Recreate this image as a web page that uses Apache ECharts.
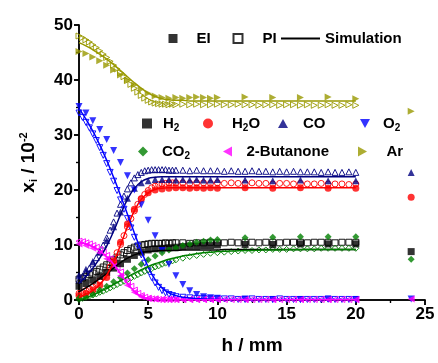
<!DOCTYPE html>
<html><head><meta charset="utf-8">
<script src="https://cdn.jsdelivr.net/npm/echarts@6/dist/echarts.min.js"></script>
<style>html,body{margin:0;padding:0;background:#fff}#c{width:438px;height:363px}</style>
</head><body><div id="c"></div>
<script>
// x positions
const piX = [0,0.25,0.5,0.75,1,1.25,1.5,1.75,2,2.25,2.5,2.75,3,3.25,3.5,3.75,4,4.25,4.5,4.75,5,5.25,5.5,5.75,6,6.25,6.5,6.75,7,
  7.5,8,8.5,9,9.5,10,10.5,11,11.5,12,12.5,13,13.5,14,14.5,15,15.5,16,16.5,17,17.5,18,18.5,19,19.5,20];
const eiX = [0,0.5,1,1.5,2,2.5,3,3.5,4,4.5,5,5.5,6,6.5,7,7.5,8,8.5,9,9.5,10,12,14,16,18,20,24];
const simX = [0,0.5,1,1.5,2,2.5,3,3.5,4,4.5,5,5.5,6,6.5,7,7.5,8,8.5,9,9.5,10,10.5,11,11.5,12,12.5,13,13.5,14,14.5,15,15.5,16,16.5,17,17.5,18,18.5,19,19.5,20];

// EI values (filled markers)
const eiH2 = [2.5,3.0,3.6,4.3,5.0,5.8,6.6,7.4,8.1,8.7,9.1,9.3,9.4,9.5,9.6,9.7,9.8,9.8,9.9,9.9,10.0,10.1,10.1,10.2,10.2,10.2,8.8];
const eiH2O = [0.8,1.2,1.8,2.7,4.1,7.0,10.5,13.8,16.5,18.4,19.5,20.0,20.2,20.3,20.4,20.4,20.3,20.4,20.3,20.4,20.3,20.4,20.3,20.4,20.3,20.3,18.7];
const eiCO = [4.5,5.6,7.0,8.7,10.8,13.3,16.0,18.5,20.3,21.3,21.7,21.9,21.9,21.9,21.8,21.9,21.8,21.9,21.8,21.8,21.9,21.8,21.7,21.8,21.7,21.7,23.2];
const eiO2 = [35.2,34.0,32.6,31.0,29.2,27.2,25.0,22.6,20.0,17.3,14.5,11.7,9.0,6.5,4.4,2.8,1.7,1.0,0.6,0.4,0.3,0.2,0.1,0.1,0.1,0.1,0.2];
const eiCO2 = [0.3,0.6,1.1,1.8,2.5,3.3,4.1,4.9,5.7,6.5,7.3,8.0,8.6,9.1,9.5,9.9,10.2,10.5,10.7,10.9,11.0,11.3,11.4,11.5,11.5,11.5,7.4];
const eiBut = [10.2,9.9,9.4,8.6,7.5,6.1,4.4,2.7,1.4,0.6,0.3,0.2,0.1,0.1,0.1,0.1,0.1,0.1,0.1,0.1,0.1,0.1,0.1,0.1,0.1,0.1,0.2];
const eiAr = [45.2,44.8,44.2,43.5,42.7,41.8,40.9,40.0,39.1,38.3,37.6,37.1,36.8,36.7,36.8,36.7,36.8,36.9,36.8,36.7,36.8,36.9,36.8,36.8,36.9,36.6,34.3];

// PI values (open markers)
const piH2 = [3.8,4.0,4.3,4.6,4.9,5.2,5.6,6.0,6.4,6.8,7.3,7.8,8.2,8.6,9.0,9.3,9.6,9.8,10.0,10.1,10.2,10.3,10.3,10.3,10.3,10.4,10.3,10.4,10.4,
  10.4,10.3,10.4,10.4,10.5,10.4,10.4,10.5,10.4,10.5,10.5,10.4,10.5,10.5,10.4,10.5,10.5,10.5,10.4,10.5,10.5,10.5,10.4,10.5,10.5,10.5];
const piH2O = [1.2,1.4,1.7,2.0,2.4,2.9,3.5,4.2,5.0,6.0,7.2,8.6,10.1,11.7,13.3,14.8,16.2,17.4,18.4,19.2,19.9,20.4,20.7,21.0,21.1,21.2,21.3,21.3,21.3,
  21.3,21.2,21.3,21.3,21.2,21.3,21.2,21.3,21.2,21.2,21.3,21.2,21.2,21.1,21.2,21.2,21.1,21.2,21.1,21.1,21.2,21.1,21.1,21.1,21.0,21.1];
const piCO = [3.6,4.3,5.0,5.8,6.7,7.7,8.8,10.0,11.3,12.7,14.2,15.8,17.4,18.9,20.2,21.3,22.2,22.8,23.2,23.5,23.6,23.7,23.7,23.7,23.7,23.7,23.6,23.6,23.6,
  23.6,23.5,23.6,23.5,23.5,23.5,23.4,23.5,23.4,23.4,23.5,23.4,23.4,23.3,23.4,23.3,23.4,23.3,23.3,23.3,23.2,23.3,23.2,23.2,23.3,23.2];
const piO2 = [34.0,33.2,32.3,31.3,30.2,29.0,27.7,26.3,24.8,23.2,21.6,19.9,18.2,16.5,14.8,13.1,11.4,9.8,8.2,6.7,5.3,4.1,3.1,2.3,1.7,1.3,1.0,0.8,0.6,
  0.5,0.4,0.3,0.3,0.2,0.2,0.2,0.2,0.1,0.1,0.2,0.1,0.1,0.1,0.2,0.1,0.1,0.1,0.1,0.1,0.1,0.2,0.1,0.1,0.1,0.1];
const piCO2 = [0.1,0.3,0.5,0.7,0.9,1.1,1.4,1.6,1.9,2.2,2.5,2.8,3.1,3.4,3.7,4.0,4.3,4.6,4.9,5.2,5.5,5.7,6.0,6.2,6.5,6.7,6.9,7.1,7.3,
  7.6,7.9,8.1,8.3,8.5,8.6,8.7,8.8,8.9,9.0,9.0,9.1,9.1,9.2,9.2,9.2,9.3,9.3,9.3,9.3,9.4,9.4,9.4,9.4,9.4,9.4];
const piBut = [10.7,10.6,10.4,10.2,9.9,9.6,9.2,8.7,8.1,7.5,6.8,6.0,5.1,4.2,3.3,2.5,1.8,1.2,0.8,0.5,0.3,0.2,0.2,0.1,0.1,0.1,0.1,0.1,0.1,
  0.1,0.1,0.1,0.1,0.1,0.1,0.1,0.1,0.1,0.1,0.1,0.1,0.1,0.1,0.1,0.1,0.1,0.1,0.1,0.1,0.1,0.1,0.1,0.1,0.1,0.1];
const piAr = [48.0,47.7,47.3,46.9,46.4,45.9,45.3,44.7,44.1,43.4,42.7,42.0,41.3,40.6,39.9,39.2,38.5,37.8,37.2,36.7,36.3,36.0,35.8,35.7,35.6,35.6,35.5,35.6,35.5,
  35.6,35.5,35.6,35.5,35.5,35.6,35.5,35.5,35.6,35.5,35.5,35.4,35.5,35.5,35.4,35.5,35.5,35.4,35.5,35.4,35.4,35.5,35.4,35.4,35.5,35.4];

// Simulation values
const simH2 = [1.5,2.2,3.0,3.9,4.8,5.8,6.8,7.6,8.2,8.6,8.8,8.9,9.0,9.0,9.0,9.1,9.1,9.1,9.1,9.1,9.1,9.2,9.2,9.2,9.2,9.2,9.2,9.2,9.2,9.2,9.2,9.2,9.2,9.2,9.2,9.2,9.2,9.2,9.2,9.2,9.2];
const simH2O = [0.5,1.0,1.7,2.8,4.5,6.9,10.0,13.3,16.2,18.3,19.5,20.1,20.3,20.4,20.4,20.4,20.4,20.4,20.4,20.4,20.4,20.4,20.4,20.4,20.4,20.4,20.4,20.4,20.4,20.4,20.4,20.4,20.4,20.4,20.4,20.4,20.4,20.4,20.4,20.4,20.4];
const simCO = [3.0,4.3,5.8,7.6,9.8,12.5,15.5,18.3,20.3,21.5,22.1,22.3,22.4,22.4,22.4,22.4,22.4,22.4,22.4,22.4,22.4,22.4,22.4,22.4,22.4,22.4,22.4,22.4,22.4,22.4,22.4,22.4,22.4,22.4,22.4,22.4,22.4,22.4,22.4,22.4,22.4];
const simO2 = [34.8,32.9,30.7,28.2,25.4,22.3,19.0,15.6,12.2,8.9,6.0,3.7,2.2,1.3,0.8,0.5,0.35,0.25,0.2,0.15,0.12,0.1,0.1,0.1,0.1,0.1,0.1,0.1,0.1,0.1,0.1,0.1,0.1,0.1,0.1,0.1,0.1,0.1,0.1,0.1,0.1];
const simCO2 = [0.0,0.4,0.9,1.5,2.1,2.8,3.5,4.2,4.9,5.5,6.1,6.6,7.0,7.4,7.7,8.0,8.2,8.4,8.6,8.7,8.8,8.85,8.9,8.95,9.0,9.0,9.05,9.1,9.1,9.1,9.15,9.15,9.15,9.2,9.2,9.2,9.2,9.2,9.2,9.2,9.2];
const simBut = [10.5,10.2,9.7,8.9,7.9,6.5,4.8,3.0,1.6,0.7,0.3,0.1,0.05,0.05,0.05,0.05,0.05,0.05,0.05,0.05,0.05,0.05,0.05,0.05,0.05,0.05,0.05,0.05,0.05,0.05,0.05,0.05,0.05,0.05,0.05,0.05,0.05,0.05,0.05,0.05,0.05];
const simAr = [46.8,46.2,45.5,44.7,43.8,42.8,41.7,40.6,39.5,38.5,37.6,37.0,36.6,36.4,36.3,36.3,36.2,36.2,36.2,36.2,36.2,36.2,36.2,36.2,36.2,36.2,36.2,36.2,36.2,36.2,36.2,36.2,36.2,36.2,36.2,36.2,36.2,36.2,36.2,36.2,36.2];

const xTicks = [0,5,10,15,20,25];
const yTicks = [0,10,20,30,40,50];

const TRI_DOWN = 'path://M0,0L10,0L5,9Z';
const TRI_LEFT = 'path://M9,0L9,10L0,5Z';
const TRI_RIGHT = 'path://M0,0L0,10L9,5Z';
const TRI_UP = 'path://M5,0L10,9L0,9Z';

const species = [
  {name:'H2',  label:'H{sub|2}',  color:'#000000', symbol:'rect',    ei:eiH2,  pi:piH2,  sim:simH2},
  {name:'H2O', label:'H{sub|2}O', color:'#ff0000', symbol:'circle',  ei:eiH2O, pi:piH2O, sim:simH2O},
  {name:'CO',  label:'CO',        color:'#000080', symbol:TRI_UP,    ei:eiCO,  pi:piCO,  sim:simCO},
  {name:'O2',  label:'O{sub|2}',  color:'#0000ff', symbol:TRI_DOWN,  ei:eiO2,  pi:piO2,  sim:simO2},
  {name:'CO2', label:'CO{sub|2}', color:'#008000', symbol:'diamond', ei:eiCO2, pi:piCO2, sim:simCO2},
  {name:'2-Butanone', label:'2-Butanone', color:'#ff00ff', symbol:TRI_LEFT, ei:eiBut, pi:piBut, sim:simBut},
  {name:'Ar',  label:'Ar',        color:'#999900', symbol:TRI_RIGHT, ei:eiAr,  pi:piAr,  sim:simAr}
];

const FONT = 'Liberation Sans';
const rich = {
  sub:{fontSize:10, fontWeight:'bold', fontFamily:FONT, padding:[9,0,0,0]},
  sup:{fontSize:10, fontWeight:'bold', fontFamily:FONT, padding:[0,0,9,0]}
};

const series = [];
species.forEach(s => {
  series.push({
    name: s.name + ' PI', type:'scatter', z:2, silent:true,
    symbol: s.symbol, symbolSize: 6,
    itemStyle:{color:'transparent', borderColor:s.color, borderWidth:1, opacity:0.9},
    data: piX.map((x,i)=>[x, s.pi[i]])
  });
});
species.forEach(s => {
  series.push({
    name: s.name, type:'scatter', z:3, silent:true,
    symbol: s.symbol, symbolSize: 7,
    itemStyle:{color:s.color},
    data: eiX.map((x,i)=>[x, s.ei[i]])
  });
});
species.forEach(s => {
  series.push({
    name: s.name + ' Sim', type:'line', z:4, silent:true, smooth:true,
    showSymbol:false, symbol:'none',
    lineStyle:{color:s.color, width:1.5},
    data: simX.map((x,i)=>[x, s.sim[i]])
  });
});
series.push({name:'EI', type:'scatter', symbol:'rect', itemStyle:{color:'#000'}, data:[]});
series.push({name:'PI', type:'scatter', symbol:'rect', itemStyle:{color:'#fff', borderColor:'#000', borderWidth:1.2}, data:[]});
series.push({name:'Simulation', type:'line', lineStyle:{color:'#000', width:2}, itemStyle:{color:'#000'}, data:[]});

const txt = {fontSize:15, fontWeight:'bold', fontFamily:FONT, color:'#000', rich: rich};
function lg(name, cx, cy, w, h, pad) {
  return {
    data:[name], left: cx - w/2, top: cy - 9, itemWidth:w, itemHeight:h, padding:0,
    selectedMode:false,
    textStyle: Object.assign({}, txt, {padding:[0,0,0,pad]}),
    formatter: n => { const sp = species.find(s=>s.name===n); return sp ? sp.label : n; }
  };
}
const simLegend = lg('Simulation', 300.5, 40, 39, 2, 0);
simLegend.data = [{name:'Simulation', icon:'rect'}];
const legends = [
  lg('EI', 173, 40, 9, 9, 14),
  lg('PI', 237, 40, 9, 9, 15),
  simLegend,
  lg('H2', 147, 125, 10, 10, 6),
  lg('H2O', 208, 125, 10, 10, 14),
  lg('CO', 283, 125, 10, 10, 10),
  lg('O2', 365, 125, 10, 10, 8),
  lg('CO2', 143, 153, 10, 10, 9),
  lg('2-Butanone', 228, 153, 10, 10, 9),
  lg('Ar', 363, 153, 10, 10, 14)
];

const axisLine = {show:true, lineStyle:{color:'#000', width:1.5}};
const option = {
  animation:false,
  backgroundColor:'#fff',
  grid:{left:79, right:13, top:25, bottom:63},
  legend: legends,
  xAxis:[
    {type:'value', min:xTicks[0], max:xTicks[xTicks.length-1], interval:5, position:'bottom',
     name:'h / mm', nameLocation:'middle', nameGap:36,
     nameTextStyle:{fontSize:19, fontWeight:'bold', fontFamily:FONT, color:'#000'},
     axisLine, splitLine:{show:false},
     axisTick:{show:true, inside:false, length:5, lineStyle:{color:'#000', width:1.5}},
     minorTick:{show:true, splitNumber:2, length:3, lineStyle:{color:'#000', width:1.2}},
     axisLabel:{fontSize:17, fontWeight:'bold', fontFamily:FONT, color:'#000', margin:6}},
    {type:'value', min:0, max:25, interval:5, position:'top',
     axisLine, splitLine:{show:false}, axisLabel:{show:false},
     axisTick:{show:true, inside:true, length:5, lineStyle:{color:'#000', width:1.5}},
     minorTick:{show:true, splitNumber:2, length:3, lineStyle:{color:'#000', width:1.2}}}
  ],
  yAxis:[
    {type:'value', min:yTicks[0], max:yTicks[yTicks.length-1], interval:10, position:'left',
     name:'x{sub|i} / 10{sup|-2}', nameLocation:'middle', nameGap:40, nameRotate:90,
     nameTextStyle:{fontSize:19, fontWeight:'bold', fontFamily:FONT, color:'#000',
       rich:{sub:{fontSize:11, fontWeight:'bold', fontFamily:FONT, padding:[10,0,0,0]},
             sup:{fontSize:11, fontWeight:'bold', fontFamily:FONT, padding:[0,0,10,0]}}},
     axisLine, splitLine:{show:false},
     axisTick:{show:true, inside:false, length:5, lineStyle:{color:'#000', width:1.5}},
     minorTick:{show:true, splitNumber:2, length:3, lineStyle:{color:'#000', width:1.2}},
     axisLabel:{fontSize:17, fontWeight:'bold', fontFamily:FONT, color:'#000', margin:6}},
    {type:'value', min:0, max:50, interval:10, position:'right',
     axisLine, splitLine:{show:false}, axisLabel:{show:false},
     axisTick:{show:true, inside:true, length:5, lineStyle:{color:'#000', width:1.5}},
     minorTick:{show:true, splitNumber:2, length:3, lineStyle:{color:'#000', width:1.2}}}
  ],
  series
};
const chart = echarts.init(document.getElementById('c'), null, {renderer:'canvas'});
chart.setOption(option);
</script>
</body></html>
